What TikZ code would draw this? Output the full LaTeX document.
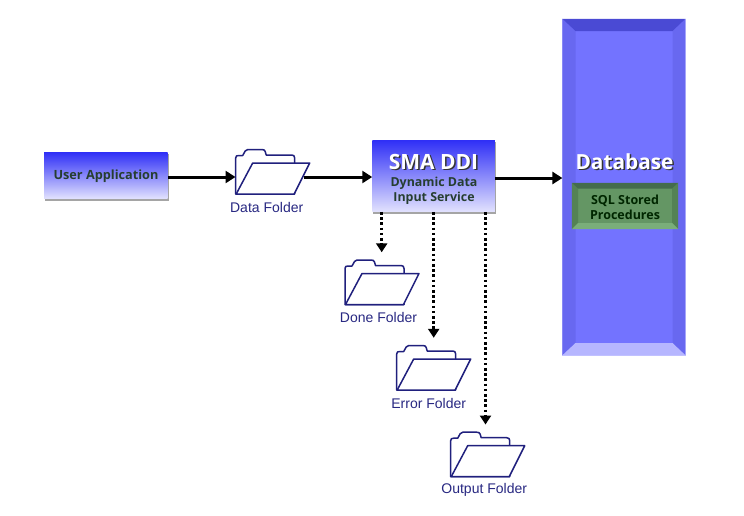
\documentclass[tikz,border=0pt]{standalone}
\usepackage{fontspec}
\setmainfont{Liberation Sans}
\newfontfamily\boxfont{Open Sans}
\usetikzlibrary{arrows.meta}
\definecolor{navy}{RGB}{32,32,125}
\definecolor{labelblue}{RGB}{40,40,130}
\definecolor{boxtext}{RGB}{38,62,48}
\definecolor{boxblue}{RGB}{15,15,245}
\definecolor{boxgray}{RGB}{165,165,165}
\definecolor{dbmid}{RGB}{115,115,255}
\definecolor{dbtop}{RGB}{74,74,212}
\definecolor{dbside}{RGB}{104,104,240}
\definecolor{dbbot}{RGB}{182,182,255}
\definecolor{dbedge}{RGB}{200,200,255}
\definecolor{grmid}{RGB}{100,150,100}
\definecolor{grtop}{RGB}{68,108,76}
\definecolor{grside}{RGB}{84,130,84}
\definecolor{grbot}{RGB}{122,174,122}
\pgfdeclareverticalshading{boxfade}{100bp}{color(0bp)=(white);color(17bp)=(white);color(84bp)=(boxblue);color(100bp)=(boxblue)}
\tikzset{
  gradbox/.style={rectangle,inner sep=0pt,shading=boxfade,align=center,
    preaction={fill=boxgray,draw=none,transform canvas={xshift=1pt,yshift=-2.2pt}}},
  folderanchor/.style={rectangle,inner sep=0pt,minimum height=44pt},
  folderlabel/.style={font=\fontsize{14}{16}\selectfont,text=labelblue,inner sep=0pt},
  folderline/.style={draw=navy,line width=1.5pt,fill=white,line join=round},
  flow/.style={line width=3pt,-{Triangle[length=10pt,width=12pt]}},
  dots/.style={line width=2.6pt,dash pattern=on 2.6pt off 2.6pt,-{Triangle[length=9pt,width=11pt]},shorten >=8pt},
  boxlabel/.style={font=\boxfont\bfseries\fontsize{12.7}{15}\selectfont,text=boxtext,inner sep=0pt,align=center}
}
\newcommand{\shadowed}[1]{\leavevmode\rlap{\raisebox{-1.5pt}{\hspace{1.5pt}\textcolor{black!80}{#1}}}\textcolor{white}{#1}}
% name, left, bottom, arrow x, width, label, label x offset
\newcommand{\folderat}[7]{%
  \node[folderanchor,minimum width=#5pt] (#1) at (#4,#3-22) {};
  \begin{scope}[shift={(#2,#3)}]
    \draw[folderline] (0,0) -- (0,-36) .. controls (0,-38) and (1,-38.5) .. (3,-38.5) -- (7,-38.5) -- (9.5,-43) .. controls (10,-44) and (10.5,-44.5) .. (12,-44.5) -- (26,-44.5) .. controls (28,-44.5) and (29,-44) .. (29.5,-42.5) -- (30.5,-39) -- (56,-39) .. controls (58,-39) and (59,-38) .. (59,-36) -- (59,-31) -- (59,0) -- cycle;
    \draw[folderline] (0.5,0) -- (17,-31) -- (74,-31) -- (58.5,0) -- cycle;
  \end{scope}
  \node[folderlabel] (#1-label) at (#2+#7,#3+13.3) {#6};
}
\begin{document}
\begin{tikzpicture}[x=1pt,y=-1pt]
\useasboundingbox (0,0) rectangle (744,515);
\fill[white] (0,0) rectangle (744,515);

% database
\node[rectangle,inner sep=0pt,minimum width=122.5pt,minimum height=336pt,fill=dbmid,draw=dbedge,line width=0.5pt] (db) at (623.9,187) {};
\fill[dbside] (db.north west) -- (575.5,31) -- (575.5,343) -- (db.south west) -- cycle;
\fill[dbside] (db.north east) -- (672.5,31) -- (672.5,343) -- (db.south east) -- cycle;
\fill[dbtop] (db.north west) -- (db.north east) -- (672.5,31) -- (575.5,31) -- cycle;
\fill[dbbot] (db.south west) -- (db.south east) -- (672.5,343) -- (575.5,343) -- cycle;
\node[font=\boxfont\bfseries\fontsize{20.8}{22}\selectfont,inner sep=0pt] (dbtitle) at (624.5,162) {\shadowed{Database}};

% stored procedures
\node[rectangle,inner sep=0pt,minimum width=106pt,minimum height=46pt,fill=grmid] (sql) at (625,206) {};
\fill[grside] (sql.north west) -- (578,188.5) -- (578,223) -- (sql.south west) -- cycle;
\fill[grside] (sql.north east) -- (672,188.5) -- (672,223) -- (sql.south east) -- cycle;
\fill[grtop] (sql.north west) -- (sql.north east) -- (672,188.5) -- (578,188.5) -- cycle;
\fill[grbot] (sql.south west) -- (sql.south east) -- (672,223) -- (578,223) -- cycle;
\node[boxlabel,text=black!85!green,font=\boxfont\bfseries\fontsize{12.5}{15.2}\selectfont] (sqltext) at (625,207) {SQL Stored\\Procedures};

% boxes
\node[gradbox,minimum width=123.5pt,minimum height=46.5pt] (user) at (105.8,175.5) {};
\node[boxlabel] (usertext) at (106,176) {User Application};
\node[gradbox,minimum width=122.5pt,minimum height=71.5pt] (sma) at (433.7,176) {};
\node[font=\boxfont\bfseries\fontsize{21}{22}\selectfont,inner sep=0pt] (smatitle) at (433.5,162.5) {\shadowed{SMA DDI}};
\node[boxlabel,font=\boxfont\bfseries\fontsize{12.4}{15.2}\selectfont] (smatext) at (434,191) {Dynamic Data\\Input Service};

% folders
\folderat{data}{235.7}{194}{269.5}{67.6}{Data Folder}{31}
\folderat{done}{345}{304.5}{381.7}{73.4}{Done Folder}{33.5}
\folderat{error}{396.7}{390}{433.7}{74}{Error Folder}{32}
\folderat{output}{450.7}{476.7}{485.5}{69.6}{Output Folder}{33.5}

% connectors
\draw[flow] (user.east |- 0,177) -- (data.west |- 0,177);
\draw[flow] (data.east |- 0,177) -- (sma.west |- 0,177);
\draw[flow] (sma.east |- 0,178) -- (db.west |- 0,178);
\draw[dots] (sma.south -| done.north) -- (done.north);
\draw[dots] (sma.south -| error.north) -- (error.north);
\draw[dots] (sma.south -| output.north) -- (output.north);
\end{tikzpicture}
\end{document}
